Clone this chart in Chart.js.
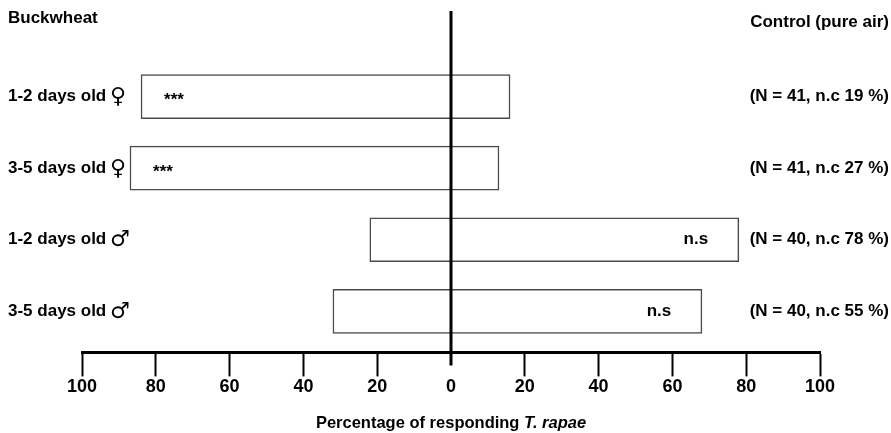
<!DOCTYPE html>
<html>
<head>
<meta charset="utf-8">
<script src="https://cdn.jsdelivr.net/npm/chart.js@4"></script>
<style>
  body { margin: 0; background: #fff; }
  #myChart { display: block; }
</style>
</head>
<body>
<canvas id="myChart" width="891" height="433"></canvas>
<script>
// data
const categories = ["1-2 days old ♀", "3-5 days old ♀", "1-2 days old ♂", "3-5 days old ♂"];
const buckwheat = [84, 87, 22, 32];
const control = [16, 13, 78, 68];
const significance = ["***", "***", "n.s", "n.s"];
const sampleSizes = [41, 41, 40, 40];
const noChoice = [19, 27, 78, 55];
const leftHeader = "Buckwheat";
const rightHeader = "Control (pure air)";
const axisTitle = "Percentage of responding ";
const axisTitleItalic = "T. rapae";

const FONT = "'Liberation Sans', Arial, sans-serif";

// floating bars: buckwheat to the left of zero, control to the right
const bars = categories.map((c, i) => ({ y: i, x: [-buckwheat[i], control[i]] }));

const textPlugin = {
  id: "texts",
  afterDatasetsDraw(chart) {
    const ctx = chart.ctx;
    const x = chart.scales.x;
    const y = chart.scales.y;
    const area = chart.chartArea;
    const x0 = x.getPixelForValue(0);

    ctx.save();
    // thick zero line
    ctx.strokeStyle = "#000";
    ctx.lineWidth = 3;
    ctx.beginPath();
    ctx.moveTo(x0, 11);
    ctx.lineTo(x0, area.bottom + 13);
    ctx.stroke();

    ctx.fillStyle = "#000";
    ctx.textBaseline = "middle";

    // headers
    ctx.font = "bold 17px " + FONT;
    ctx.textAlign = "left";
    ctx.fillText(leftHeader, 8, 18);
    ctx.textAlign = "right";
    ctx.fillText(rightHeader, 889, 22);

    categories.forEach((cat, i) => {
      const yc = y.getPixelForValue(i);
      const name = cat.slice(0, -2);
      const sym = cat.slice(-1);

      ctx.textAlign = "left";
      ctx.font = "bold 17px " + FONT;
      ctx.fillText(name, 8, yc);
      const w = ctx.measureText(name + " ").width;
      ctx.font = "22px 'DejaVu Sans', sans-serif";
      ctx.fillText(sym, 7 + w, yc + 1);

      // N and no-choice text
      ctx.font = "bold 17px " + FONT;
      ctx.textAlign = "right";
      ctx.fillText("(N = " + sampleSizes[i] + ", n.c " + noChoice[i] + " %)", 889, yc);

      // significance next to the larger end of the bar
      ctx.textAlign = "center";
      if (buckwheat[i] > control[i]) {
        ctx.fillText(significance[i], x.getPixelForValue(-buckwheat[i]) + 33, yc + 4);
      } else {
        ctx.fillText(significance[i], x.getPixelForValue(control[i]) - 43, yc);
      }
    });

    // axis title with italic species name
    ctx.font = "bold 16.5px " + FONT;
    const w1 = ctx.measureText(axisTitle).width;
    ctx.font = "italic bold 16.5px " + FONT;
    const w2 = ctx.measureText(axisTitleItalic).width;
    const startX = x0 - (w1 + w2) / 2;
    ctx.textAlign = "left";
    ctx.font = "bold 16.5px " + FONT;
    ctx.fillText(axisTitle, startX, 423);
    ctx.font = "italic bold 16.5px " + FONT;
    ctx.fillText(axisTitleItalic, startX + w1, 423);
    ctx.restore();
  }
};

const config = {
  type: "bar",
  data: {
    labels: categories,
    datasets: [
      {
        data: bars,
        backgroundColor: "#fff",
        borderColor: "#4a4a4a",
        borderWidth: 1.5,
        borderSkipped: false,
        barThickness: 44,
      },
    ],
  },
  options: {
    indexAxis: "y",
    responsive: false,
    animation: false,
    devicePixelRatio: 1,
    layout: { padding: { left: 82, right: 71, top: 40, bottom: 35 } },
    plugins: {
      legend: { display: false },
      tooltip: { enabled: false },
    },
    scales: {
      y: { type: "linear", reverse: true, offset: false, min: -0.79, max: 3.573, display: false },
      x: {
        min: -100,
        max: 100,
        border: { display: true, width: 3, color: "#000" },
        grid: {
          drawOnChartArea: false,
          drawTicks: true,
          tickLength: 24,
          tickWidth: 2,
          tickColor: (c) => (c.tick && c.tick.value === 0 ? "rgba(0,0,0,0)" : "#000"),
        },
        ticks: {
          stepSize: 20,
          padding: 0,
          color: "#000",
          maxRotation: 0,
          font: { family: FONT, size: 18, weight: "bold" },
          callback: (v) => Math.abs(v),
        },
      },
    },
  },
  plugins: [textPlugin],
};

new Chart(document.getElementById("myChart"), config);
</script>
</body>
</html>
